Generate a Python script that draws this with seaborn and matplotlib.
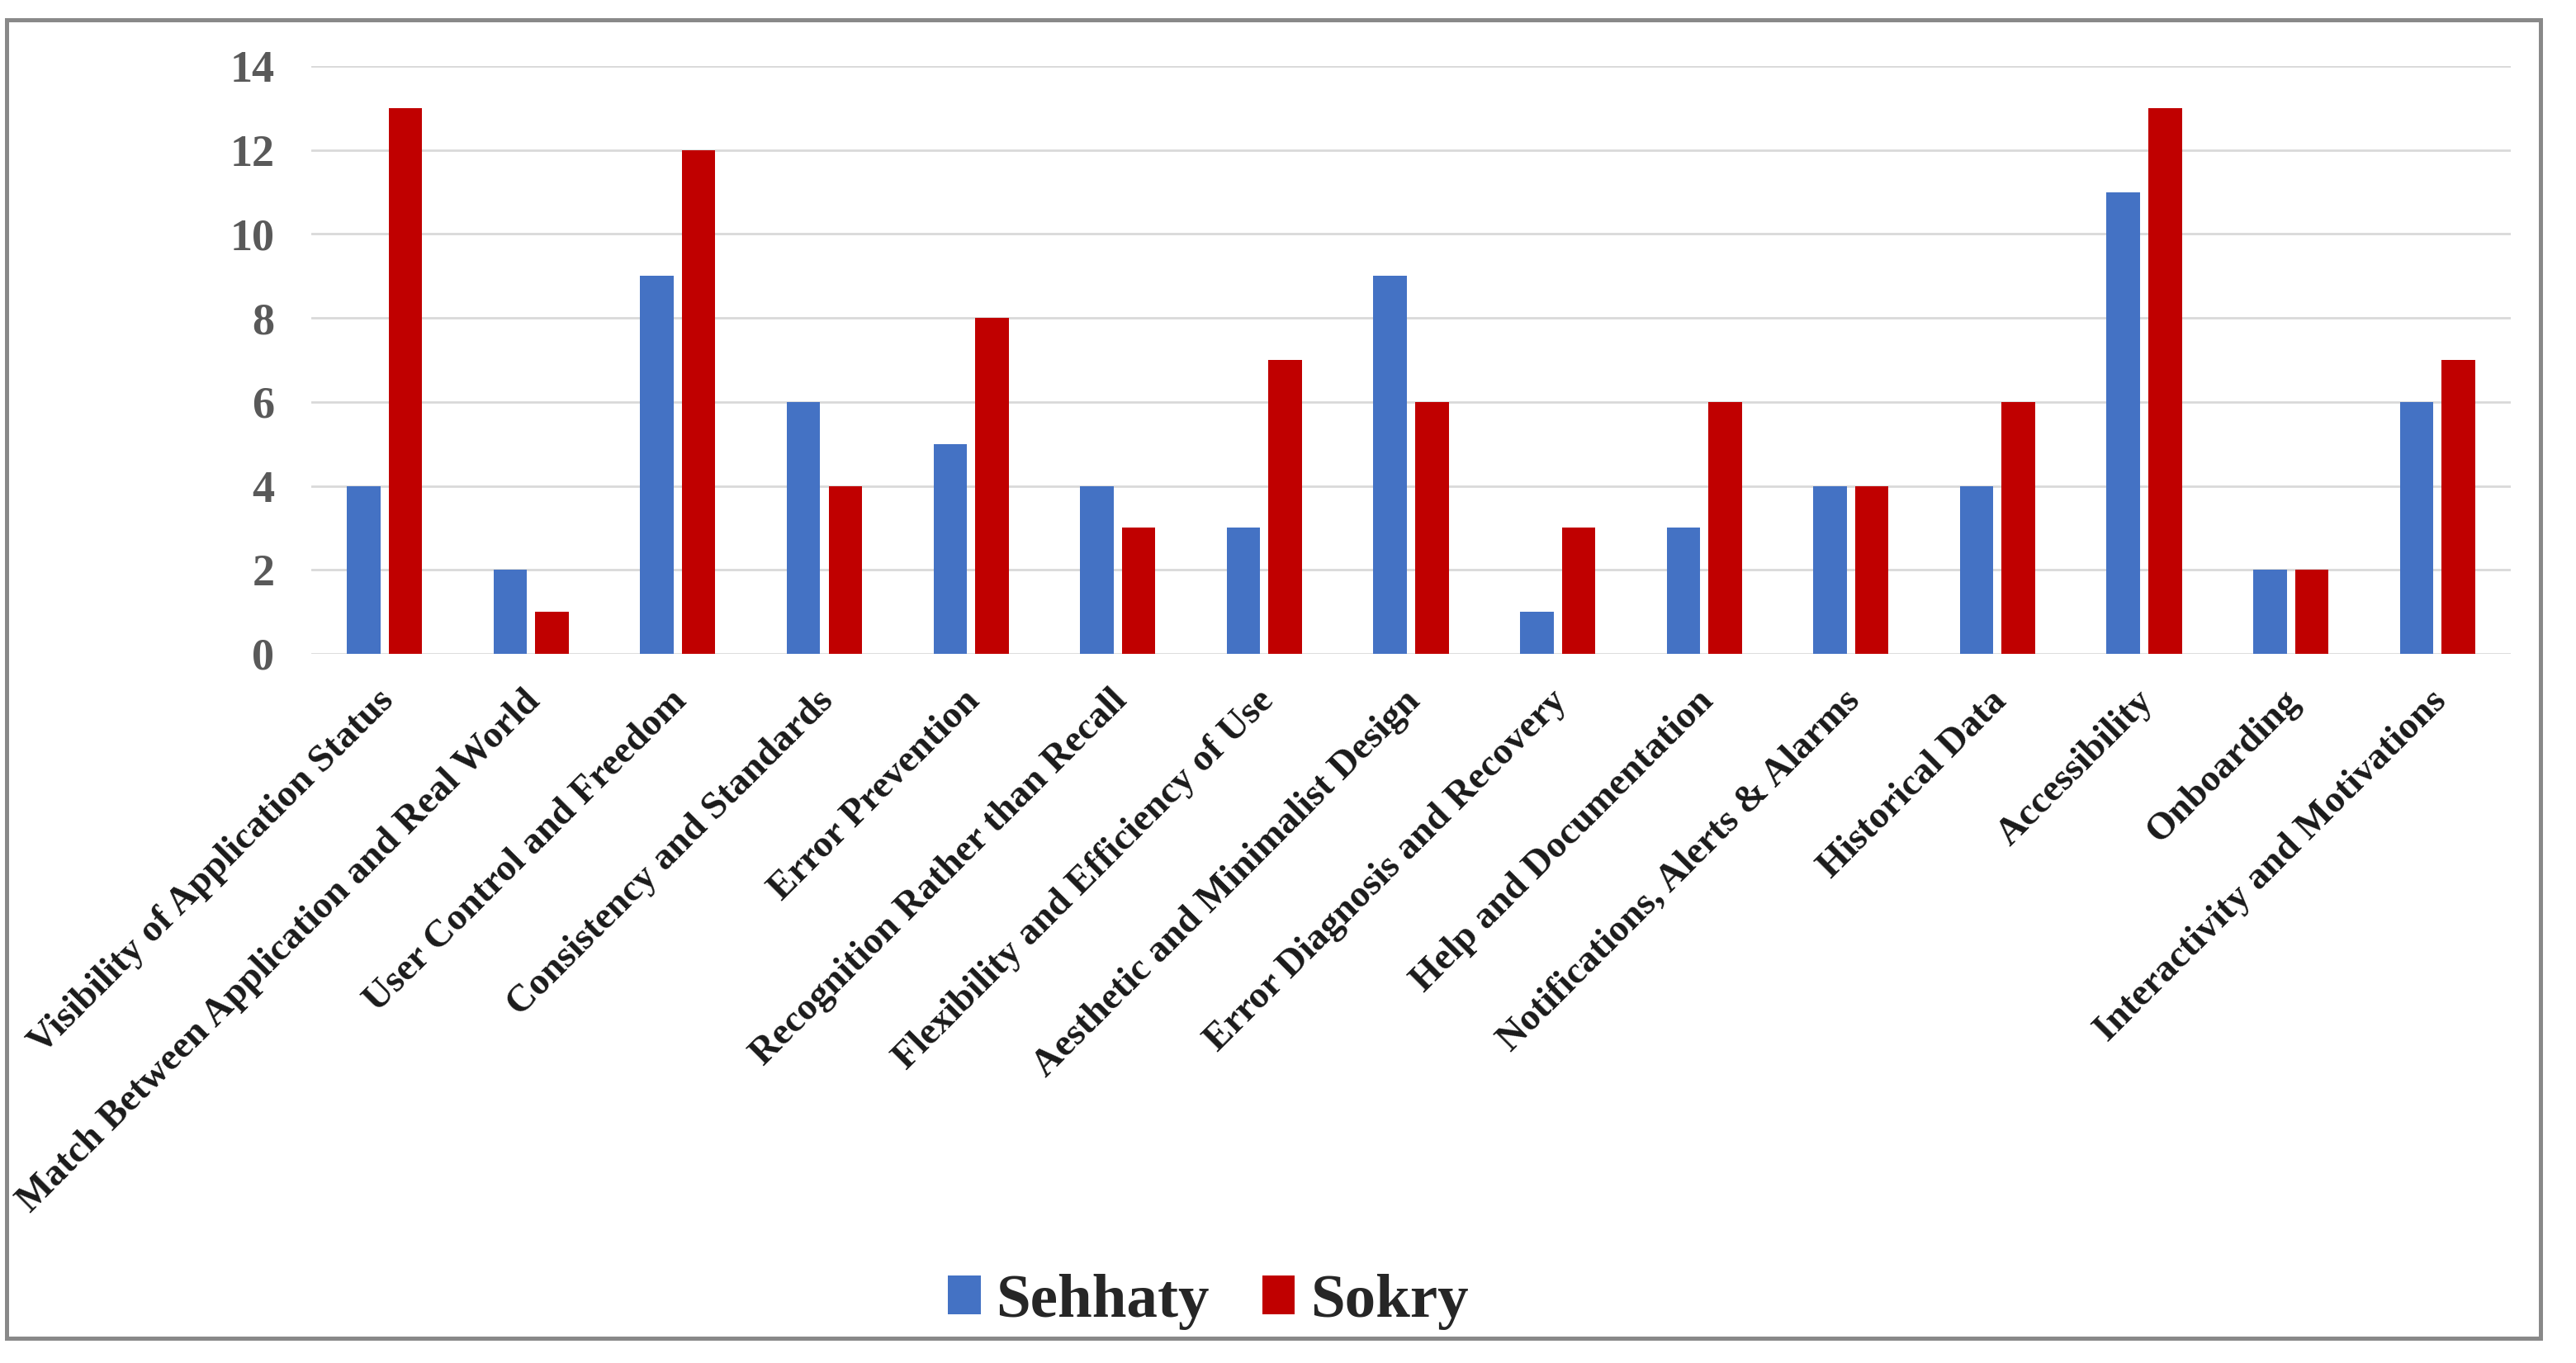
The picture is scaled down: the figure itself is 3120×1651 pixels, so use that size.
import pandas as pd
import matplotlib.pyplot as plt
import matplotlib.transforms as mtransforms
import seaborn as sns
from matplotlib.patches import Rectangle

# Data
categorias = [
    "Visibility of Application Status",
    "Match Between Application and Real World",
    "User Control and Freedom",
    "Consistency and Standards",
    "Error Prevention",
    "Recognition Rather than Recall",
    "Flexibility and Efficiency of Use",
    "Aesthetic and Minimalist Design",
    "Error Diagnosis and Recovery",
    "Help and Documentation",
    "Notifications, Alerts & Alarms",
    "Historical Data",
    "Accessibility",
    "Onboarding",
    "Interactivity and Motivations",
]
sehhaty = [4, 2, 9, 6, 5, 4, 3, 9, 1, 3, 4, 4, 11, 2, 6]
sokry = [13, 1, 12, 4, 8, 3, 7, 6, 3, 6, 4, 6, 13, 2, 7]
yticks = [0, 2, 4, 6, 8, 10, 12, 14]

# Long format table for seaborn
df = pd.DataFrame({
    "categoria": categorias * 2,
    "valor": sehhaty + sokry,
    "app": ["Sehhaty"] * len(categorias) + ["Sokry"] * len(categorias),
})

sns.set_style("white")
plt.rcParams["font.family"] = ["Liberation Serif", "DejaVu Serif"]

fig = plt.figure(figsize=(15.6, 8.255), dpi=200)
ax = fig.add_axes([0.1208, 0.5203, 0.8539, 0.4312])

sns.barplot(data=df, x="categoria", y="valor", hue="app",
            palette={"Sehhaty": "#4472C4", "Sokry": "#C00000"},
            saturation=1, linewidth=0,
            width=0.57, gap=0.2, ax=ax, legend=True)

ax.set_xlim(-0.5, 14.5)
ax.set_ylim(0, 14)
ax.set_yticks(yticks)
ax.set_yticklabels([str(v) for v in yticks], fontsize=19.5, fontweight="bold", color="#595959")
ax.tick_params(axis="both", length=0)
ax.tick_params(axis="y", pad=16)
ax.set_xticks(range(len(categorias)))
ax.set_xticklabels(categorias, rotation=45, ha="right", rotation_mode="anchor",
                   fontsize=16.7, fontweight="bold", color="#1a1a1a")
ax.tick_params(axis="x", pad=13)
# shift rotated labels slightly to the left
desloc = mtransforms.ScaledTranslation(-10 / 200, 0, fig.dpi_scale_trans)
for lbl in ax.get_xticklabels():
    lbl.set_transform(lbl.get_transform() + desloc)
ax.set_xlabel("")
ax.set_ylabel("")
ax.grid(axis="y", color="#d9d9d9", linewidth=1.0)
ax.set_axisbelow(True)
for s in ax.spines.values():
    s.set_visible(False)

# Legend at the bottom
handles, labels = ax.get_legend_handles_labels()
ax.get_legend().remove()
fig.legend(handles, labels, loc="center", bbox_to_anchor=(0.469, 0.045), ncol=2,
           frameon=False, prop={"family": "Liberation Serif", "weight": "bold", "size": 27},
           handlelength=0.53, handleheight=0.59, handletextpad=0.25, columnspacing=0.85,
           labelcolor="#262626")

# Gray border around the whole chart
fig.patches.append(Rectangle((8 / 3120, 1 - 1621 / 1651), (3077 - 8) / 3120, (1621 - 24) / 1651,
                             transform=fig.transFigure, fill=False,
                             edgecolor="#898989", linewidth=1.8))

fig.savefig("out.png", dpi=200, facecolor="white")
